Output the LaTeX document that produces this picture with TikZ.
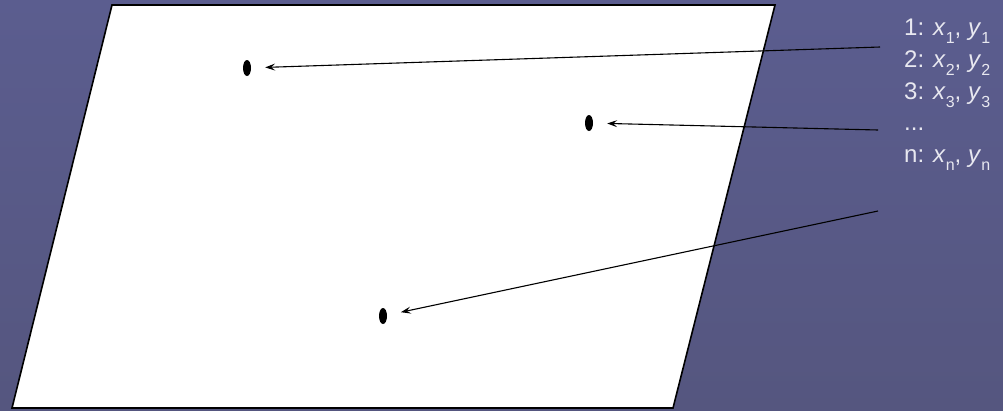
\documentclass[tikz,border=0pt]{standalone}
\usepackage{fontspec}
\setmainfont{Liberation Sans}
\usetikzlibrary{arrows.meta,shapes.geometric}
\definecolor{slidebg}{HTML}{5B5D8F}
\definecolor{slidebgdark}{HTML}{55567F}
\definecolor{listgray}{HTML}{E8E8F0}
\tikzstyle{pt-dot} = [draw=none, fill=black, ellipse, inner sep=0pt,
    minimum width=8pt, minimum height=16pt]
\tikzstyle{ptr-arrow} = [draw=black, line width=1.1pt,
    -{Stealth[length=10pt,width=7pt,inset=4pt]}, shorten >=14pt]
\tikzstyle{coord-list} = [anchor=north west, align=left, inner sep=0pt,
    text=listgray, font=\fontsize{24}{31.75}\selectfont]
\newcommand{\lowidx}[1]{\raisebox{-8pt}{\fontsize{16}{16}\selectfont #1}}
\newcommand{\pointrow}[2]{#1: \textit{x}\lowidx{#2}, \textit{y}\lowidx{#2}}

\begin{document}
\begin{tikzpicture}[x=1pt,y=-1pt]
\shade[top color=slidebg, bottom color=slidebgdark] (0,0) rectangle (1003,410);
\useasboundingbox (0,0) rectangle (1003,410);
\draw[fill=white, line width=1.6pt] (112,5) -- (775,5) -- (673,408) -- (12,408) -- cycle;
\node[pt-dot] (p1) at (247,68) {};
\node[pt-dot] (p2) at (589,123) {};
\node[pt-dot] (p3) at (383,316) {};
\node[coord-list] (list) at (904,19) {%
    \pointrow{1}{1}\\
    \pointrow{2}{2}\\
    \pointrow{3}{3}\\
    ...\\
    \pointrow{n}{n}};
\coordinate (s1) at (880,47);
\coordinate (s2) at (878,130);
\coordinate (s3) at (878,211);
\draw[ptr-arrow] (s1) -- (p1);
\draw[ptr-arrow] (s2) -- (p2);
\draw[ptr-arrow] (s3) -- (p3);
\end{tikzpicture}
\end{document}
